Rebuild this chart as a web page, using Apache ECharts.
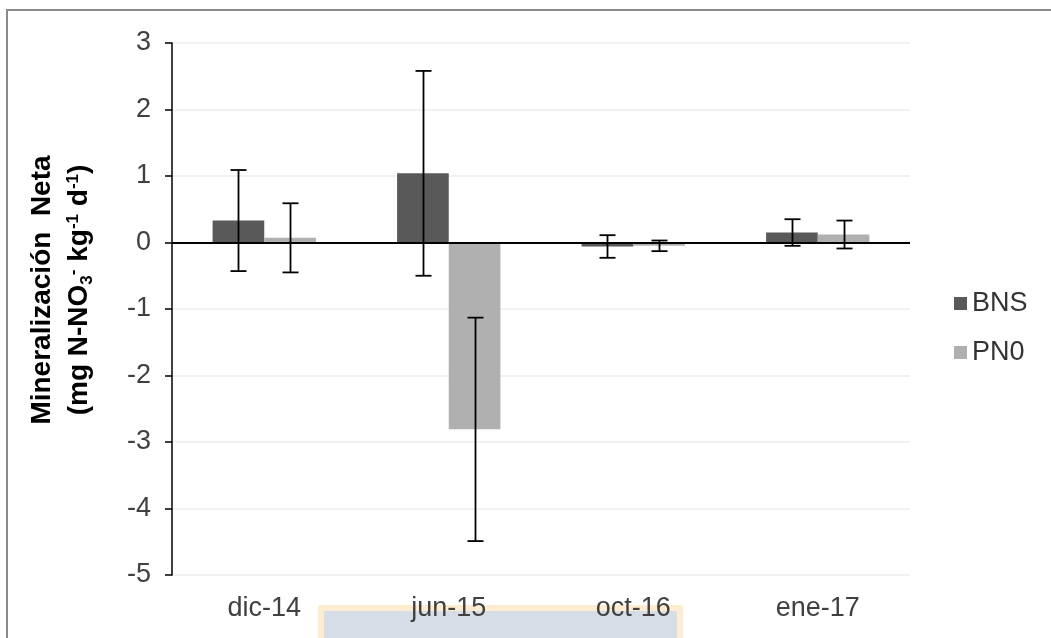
<!DOCTYPE html>
<html><head><meta charset="utf-8">
<script src="https://cdn.jsdelivr.net/npm/echarts@6/dist/echarts.min.js"></script>
<style>html,body{margin:0;padding:0;background:#fff}#c{width:1051px;height:638px}</style>
</head><body><div id="c"></div>
<script>
const categories = ['dic-14', 'jun-15', 'oct-16', 'ene-17'];
const seriesNames = ['BNS', 'PN0'];
const bnsValues = [0.33, 1.04, -0.06, 0.15];
const bnsErrors = [0.76, 1.54, 0.17, 0.20];
const pn0Values = [0.07, -2.81, -0.05, 0.12];
const pn0Errors = [0.52, 1.68, 0.08, 0.21];
const yMin = -5, yMax = 3, yInterval = 1;

const FONT = '"Liberation Sans", Arial, sans-serif';
const BAR_W = 0.28;
function errData(vals, errs, s) {
  return vals.map((v, i) => [i, v - errs[i], v + errs[i], s]);
}
function renderErr(params, api) {
  const i = api.value(0), lo = api.value(1), hi = api.value(2), s = api.value(3);
  const band = api.size([1, 0])[0];
  const off = (s === 0 ? -0.5 : 0.5) * band * BAR_W;
  const pHi = api.coord([i, hi]), pLo = api.coord([i, lo]);
  const x = Math.round(pHi[0] + off) + 0.5;
  const cap = 8;
  const st = { stroke: '#000', lineWidth: 1.8 };
  return { type: 'group', children: [
    { type: 'line', shape: { x1: x, y1: pHi[1], x2: x, y2: pLo[1] }, style: st },
    { type: 'line', shape: { x1: x - cap, y1: pHi[1], x2: x + cap, y2: pHi[1] }, style: st },
    { type: 'line', shape: { x1: x - cap, y1: pLo[1], x2: x + cap, y2: pLo[1] }, style: st }
  ]};
}

const chart = echarts.init(document.getElementById('c'), null, { renderer: 'canvas' });
chart.setOption({
  animation: false,
  backgroundColor: '#fff',
  textStyle: { fontFamily: FONT },
  grid: { left: 172, right: 141, top: 43, bottom: 63, containLabel: false },
  legend: {
    data: seriesNames, orient: 'vertical', left: 954, top: 290,
    itemWidth: 13, itemHeight: 13, itemGap: 22, icon: 'rect', padding: 0,
    textStyle: { fontSize: 27, color: '#333', fontFamily: FONT }
  },
  xAxis: {
    type: 'category', data: categories,
    axisLine: { show: false, onZero: false },
    axisTick: { show: false },
    axisLabel: { fontSize: 27, color: '#404040', margin: 20, fontFamily: FONT },
    splitLine: { show: false }
  },
  yAxis: {
    type: 'value', min: yMin, max: yMax, interval: yInterval,
    axisLine: { show: true, lineStyle: { color: '#000', width: 1.5 } },
    axisTick: { show: true, inside: false, length: 7, lineStyle: { color: '#000', width: 1.5 } },
    axisLabel: { fontSize: 27, color: '#404040', margin: 21, fontFamily: FONT },
    splitLine: { show: true, lineStyle: { color: '#ececec', width: 1.5 } }
  },
  graphic: [
    { type: 'rect', z: -10, shape: { x: 7, y: 10, width: 1100, height: 700 },
      style: { fill: 'none', stroke: '#8a8a8a', lineWidth: 2 } },
    { type: 'rect', z: -10, shape: { x: 321, y: 608, width: 359, height: 40 },
      style: { fill: '#d6dde7', stroke: '#fdecd0', lineWidth: 6 } },
    { type: 'text', x: 61, y: 290, rotation: Math.PI / 2,
      style: {
        text: '{b|Mineralización  Neta}\n{b|(mg N-NO}{sub|3}{sup|-}{b| kg}{sup|-1}{b| d}{sup|-1}{b|)}',
        align: 'center', verticalAlign: 'middle', fill: '#000',
        rich: {
          b: { fontSize: 28, fontWeight: 'bold', fontFamily: FONT, lineHeight: 37, fill: '#000' },
          sup: { fontSize: 17, fontWeight: 'bold', fontFamily: FONT, lineHeight: 17, verticalAlign: 'top', fill: '#000', padding: [4, 0, 0, 0] },
          sub: { fontSize: 17, fontWeight: 'bold', fontFamily: FONT, lineHeight: 17, verticalAlign: 'bottom', fill: '#000', padding: [0, 0, 2, 0] }
        }
      }
    }
  ],
  series: [
    { name: 'BNS', type: 'bar', data: bnsValues, barWidth: (BAR_W * 100) + '%', barGap: '0%',
      itemStyle: { color: '#595959' } },
    { name: 'PN0', type: 'bar', data: pn0Values, barWidth: (BAR_W * 100) + '%', barGap: '0%',
      itemStyle: { color: '#b0b0b0' } },
    { name: 'zero', type: 'line', data: [], z: 5, silent: true,
      markLine: { silent: true, symbol: 'none', label: { show: false },
        lineStyle: { color: '#000', width: 2, type: 'solid' }, data: [{ yAxis: 0 }] } },
    { name: 'errBNS', type: 'custom', z: 10, silent: true, renderItem: renderErr,
      encode: { x: 0, y: [1, 2] }, data: errData(bnsValues, bnsErrors, 0) },
    { name: 'errPN0', type: 'custom', z: 10, silent: true, renderItem: renderErr,
      encode: { x: 0, y: [1, 2] }, data: errData(pn0Values, pn0Errors, 1) }
  ]
});
</script>
</body></html>
